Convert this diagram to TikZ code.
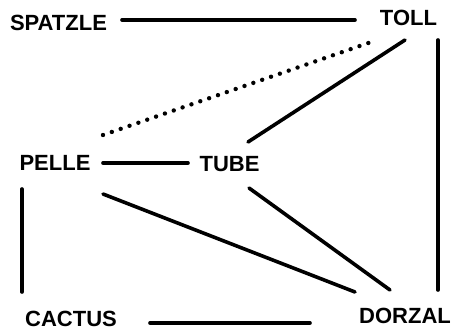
\documentclass[tikz,border=0pt]{standalone}
\usepackage{fontspec}
\setmainfont{Liberation Sans}
\begin{document}
\begin{tikzpicture}[x=1pt,y=-1pt,
  lbl/.style={inner sep=0pt,font=\fontsize{22}{24}\selectfont\bfseries},
  edge/.style={line width=3.6pt,line cap=round},
  dotedge/.style={line width=4.4pt,line cap=round,dash pattern=on 0pt off 9.36pt}]
\useasboundingbox (0,0) rectangle (452,329);
\node[lbl] (SPATZLE) at (58.5,23.3) {SPATZLE};
\node[lbl] (TOLL) at (408.5,18.3) {TOLL};
\node[lbl] (PELLE) at (55,162.5) {PELLE};
\node[lbl] (TUBE) at (229.5,164) {TUBE};
\node[lbl] (CACTUS) at (71,318.5) {CACTUS};
\node[lbl] (DORZAL) at (405,315.5) {DORZAL};
\draw[edge] ([shift={(63.5,-3.3)}]SPATZLE.center) -- ([shift={(-53.5,1.7)}]TOLL.center);
\draw[dotedge] ([shift={(48,-27.5)}]PELLE.center) -- ([shift={(-31.5,21.7)}]TOLL.center);
\draw[edge] ([shift={(-3.5,21.7)}]TOLL.center) -- ([shift={(18.5,-22)}]TUBE.center);
\draw[edge] ([shift={(29.5,21.7)}]TOLL.center) -- ([shift={(33,-25.5)}]DORZAL.center);
\draw[edge] ([shift={(48,0.5)}]PELLE.center) -- ([shift={(-41.5,-1)}]TUBE.center);
\draw[edge] ([shift={(48,31.5)}]PELLE.center) -- ([shift={(-50,-23.5)}]DORZAL.center);
\draw[edge] ([shift={(19.5,24)}]TUBE.center) -- ([shift={(-15,-25.5)}]DORZAL.center);
\draw[edge] ([shift={(-33,26.5)}]PELLE.center) -- ([shift={(-49,-26.5)}]CACTUS.center);
\draw[edge] ([shift={(79,4.5)}]CACTUS.center) -- ([shift={(-95,7.5)}]DORZAL.center);
\end{tikzpicture}
\end{document}
